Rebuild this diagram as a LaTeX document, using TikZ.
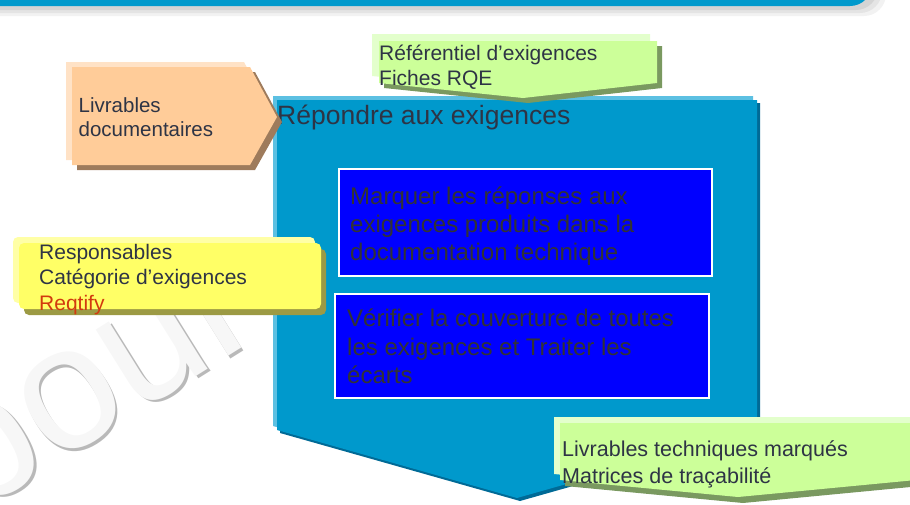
\documentclass[tikz,border=0pt]{standalone}
\usepackage{fontspec}
\setmainfont{Liberation Sans}
\usepackage{tikz}
\definecolor{procblue}{HTML}{0099CC}
\definecolor{proclight}{HTML}{5CC0E2}
\definecolor{procshadow}{HTML}{006A96}
\definecolor{taskblue}{HTML}{0000FF}
\definecolor{taskgrey}{HTML}{333333}
\definecolor{textdark}{HTML}{2E3445}
\definecolor{toolred}{HTML}{D23A0E}
\definecolor{peach}{HTML}{FFCC99}
\definecolor{peachlight}{HTML}{FFE2C6}
\definecolor{peachshadow}{HTML}{9E7B5C}
\definecolor{note}{HTML}{FFFF66}
\definecolor{notelight}{HTML}{FFFFA6}
\definecolor{noteshadow}{HTML}{9C9A44}
\definecolor{lime}{HTML}{CCFF99}
\definecolor{limelight}{HTML}{E3FFCC}
\definecolor{limeshadow}{HTML}{7A9960}
\tikzset{
  boxtext/.style={anchor=north west,inner sep=0pt,align=left,text=textdark,
    font=\fontsize{20.5}{24}\selectfont},
  tasktext/.style={boxtext,text=taskgrey,font=\fontsize{24}{28.3}\selectfont},
  taskbox/.style={fill=taskblue,draw=white,line width=2.5pt},
  watermark/.style={rotate=32,inner sep=0pt,font=\fontsize{175}{175}\selectfont}
}

\begin{document}
\begin{tikzpicture}[x=1pt,y=-1pt]
  \useasboundingbox (0,0) rectangle (910,504);
  % watermark
  \node[watermark,text=gray!55] (wmshade) at (106.5,402.5) {pour};
  \node[watermark,text=gray!6] (wmtext) at (104,400) {pour};
  % banner
  \fill[black,opacity=.05,rounded corners=22] (-40,-40) rectangle (886,16);
  \fill[black,opacity=.06,rounded corners=22] (-40,-40) rectangle (882,13);
  \fill[black,opacity=.07,rounded corners=22] (-40,-40) rectangle (878,10);
  \fill[procblue,rounded corners=22] (-40,-40) rectangle (872,6);
  % process
  \fill[proclight] (273,96) -- (753,96) -- (753,426) -- (513,494) -- (273,426) -- cycle;
  \fill[procshadow] (280,103) -- (760,103) -- (760,433) -- (520,501) -- (280,433) -- cycle;
  \fill[procblue] (277,100) -- (757,100) -- (757,430) -- (517,498) -- (277,430) -- cycle;
  \node[anchor=base west,inner sep=0pt,text=textdark,font=\fontsize{26.5}{30}\selectfont]
    (process) at (277,124) {Répondre aux exigences};
  \draw[taskbox] (339.2,169.2) rectangle (711.8,275.8);
  \node[tasktext] (mark) at (350,184.2)
    {\strut Marquer les réponses aux\\exigences produits dans la\\documentation technique};
  \draw[taskbox] (335.2,294.2) rectangle (708.8,397.8);
  \node[tasktext] (check) at (347,306.9)
    {\strut Vérifier la couverture de toutes\\les exigences et Traiter les\\écarts};
  % input
  \fill[peachlight] (66,62) -- (244,62) -- (271,112) -- (244,160) -- (66,160) -- cycle;
  \fill[peachshadow] (77,72) -- (255,72) -- (282,122) -- (255,170) -- (77,170) -- cycle;
  \fill[peach] (72,67) -- (250,67) -- (277,117) -- (250,165) -- (72,165) -- cycle;
  \node[boxtext] (docs) at (78.5,95.5) {\strut Livrables\\documentaires};
  % control
  \fill[limelight] (372,34) -- (650,34) -- (650,76) -- (516,91) -- (372,76) -- cycle;
  \fill[limeshadow] (384,46) -- (662,46) -- (662,88) -- (528,103) -- (384,88) -- cycle;
  \fill[lime] (379,41) -- (657,41) -- (657,83) -- (523,98) -- (379,83) -- cycle;
  \node[boxtext,font=\fontsize{21}{25.7}\selectfont] (refs) at (379,42)
    {\strut Référentiel d’exigences\\Fiches RQE};
  % resources
  \fill[notelight,rounded corners=5] (13,237) rectangle (315,303);
  \fill[noteshadow,rounded corners=5] (24,249) rectangle (326,315);
  \fill[note,rounded corners=5] (19,243) rectangle (321,309);
  \node[boxtext,font=\fontsize{21}{25.3}\selectfont] (owners) at (39,241.6)
    {\strut Responsables\\Catégorie d’exigences\\\textcolor{toolred}{Reqtify}};
  % output
  \fill[limelight] (554,417) -- (910,417) -- (910,474) -- (732,491) -- (554,474) -- cycle;
  \fill[limeshadow] (565,429) -- (921,429) -- (921,486) -- (743,503) -- (565,486) -- cycle;
  \fill[lime] (560,423) -- (916,423) -- (916,480) -- (738,497) -- (560,480) -- cycle;
  \node[boxtext,font=\fontsize{21.5}{26.6}\selectfont] (outputs) at (562,438.1)
    {\strut Livrables techniques marqués\\Matrices de traçabilité};
\end{tikzpicture}
\end{document}
